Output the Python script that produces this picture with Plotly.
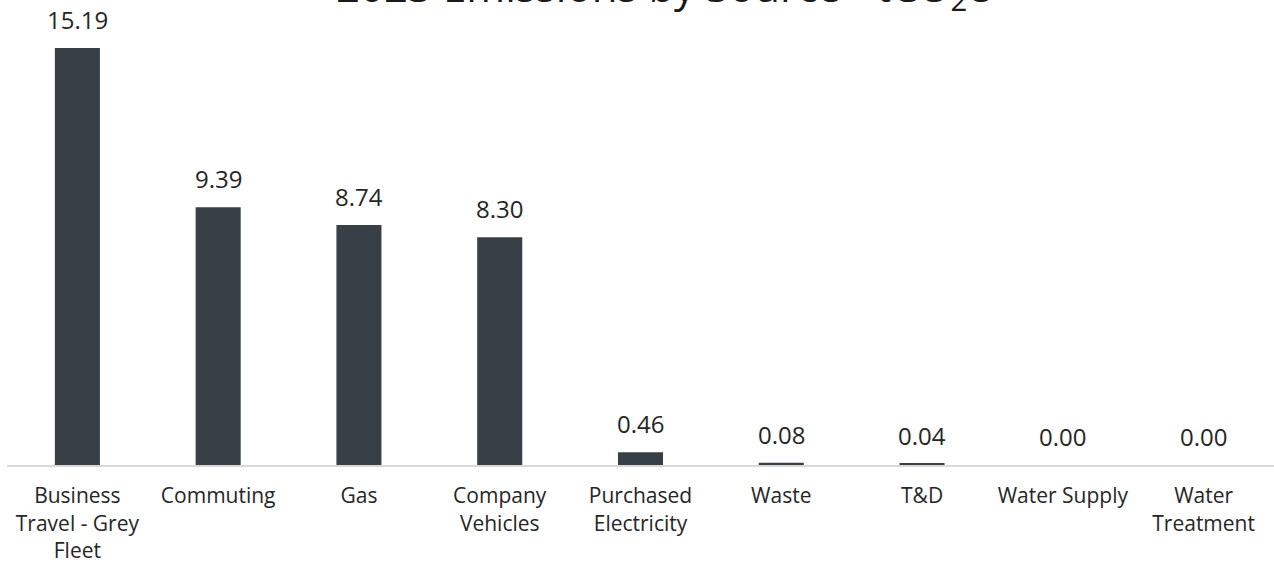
import plotly.graph_objects as go

categories = ["Business<br>Travel - Grey<br>Fleet", "Commuting", "Gas", "Company<br>Vehicles",
              "Purchased<br>Electricity", "Waste", "T&D", "Water Supply", "Water<br>Treatment"]
values = [15.19, 9.39, 8.74, 8.30, 0.46, 0.08, 0.04, 0.00, 0.00]
title_text = "2023 Emissions by Source - tCO<sub>2</sub>e"

fig = go.Figure(go.Bar(
    x=categories, y=values,
    marker=dict(color="#373f47", line=dict(width=0)),
    width=0.32,
    hoverinfo="x+y",
))

for c, v in zip(categories, values):
    fig.add_annotation(x=c, y=v, text=f"{v:.2f}", showarrow=False,
                       xref="x", yref="y", yanchor="bottom", yshift=10,
                       font=dict(size=24, color="#262626", family="Open Sans"))

# title placed as annotation so it can sit partly above the page edge, as in the reference
fig.add_annotation(x=0.518, y=1.0, xref="paper", yref="paper", text=title_text,
                   showarrow=False, xanchor="center", yanchor="middle", yshift=32,
                   font=dict(size=42, color="#1a1a1a", family="Open Sans"))

fig.update_layout(
    width=1274, height=566,
    margin=dict(l=7, r=0, t=20, b=101),
    paper_bgcolor="white", plot_bgcolor="white",
    font=dict(family="Open Sans", color="#262626"),
    showlegend=False,
)
fig.update_xaxes(showline=True, linecolor="#d9d9d9", linewidth=2, showgrid=False,
                 tickfont=dict(size=21, color="#262626"), ticks="", ticklabelstandoff=11)
fig.update_yaxes(visible=False, range=[0, 16.21], showgrid=False)

fig.write_html("out.html")
